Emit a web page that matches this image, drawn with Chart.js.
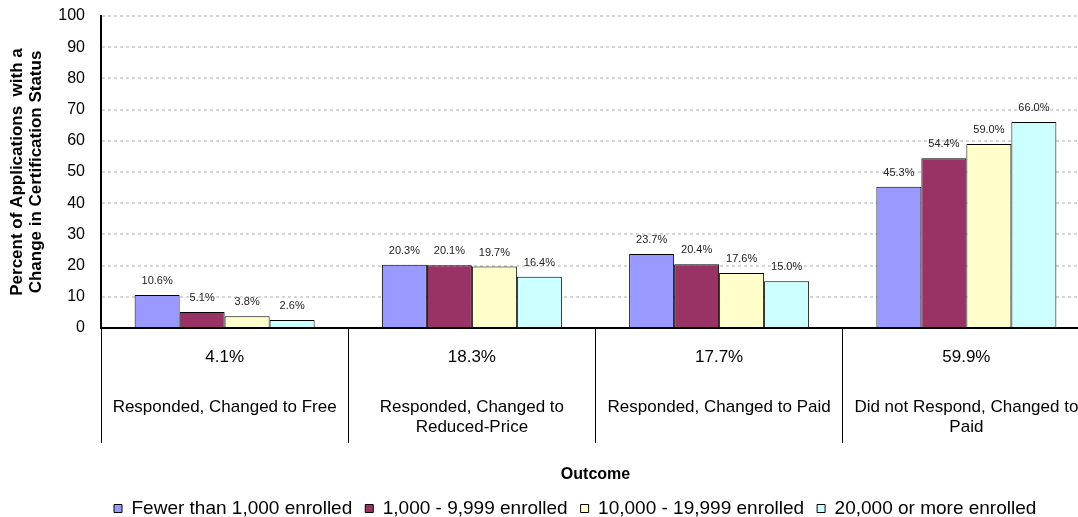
<!DOCTYPE html>
<html lang="en">
<head>
  <meta charset="UTF-8">
  <title>Change in Certification Status by Outcome</title>
  <style>
    html, body { margin: 0; padding: 0; background: #fff; overflow: hidden; }
    /* the original chart is wider than the window and gets cut on the right */
    .chart-box { position: relative; width: 1100px; height: 528px; }
  </style>
</head>
<body>
  <div class="chart-box">
    <canvas id="outcomeChart"></canvas>
  </div>

  <script src="https://cdn.jsdelivr.net/npm/chart.js"></script>
  <script>
    // Outcome categories and overall percent for each
    const outcomeNames = [
      ['Responded, Changed to Free'],
      ['Responded, Changed to', 'Reduced-Price'],
      ['Responded, Changed to Paid'],
      ['Did not Respond, Changed to', 'Paid']
    ];
    const overallPct = [4.1, 18.3, 17.7, 59.9];

    // District size groups
    const seriesNames = [
      'Fewer than 1,000 enrolled',
      '1,000 - 9,999 enrolled',
      '10,000 - 19,999 enrolled',
      '20,000 or more enrolled'
    ];
    const fewerThan1000 = [10.6, 20.3, 23.7, 45.3];
    const from1000To9999 = [5.1, 20.1, 20.4, 54.4];
    const from10000To19999 = [3.8, 19.7, 17.6, 59.0];
    const over20000 = [2.6, 16.4, 15.0, 66.0];

    const yTicks = [0, 10, 20, 30, 40, 50, 60, 70, 80, 90, 100];

    const barColors = ['#9999ff', '#993366', '#ffffcc', '#ccffff'];
    const fontFam = '"Liberation Sans", Arial, sans-serif';

    // tick label lines are 10px tall, blank lines give the gaps
    function buildLabel(pct, names) {
      const lines = [pct.toFixed(1) + '%', '', '', '', ''];
      names.forEach((n, i) => {
        if (i > 0) lines.push('');
        lines.push(n);
      });
      return lines;
    }
    const labels = overallPct.map((p, i) => buildLabel(p, outcomeNames[i]));

    // value labels above each bar
    const barValueLabels = {
      id: 'barValueLabels',
      afterDatasetsDraw(chart) {
        const ctx = chart.ctx;
        ctx.save();
        ctx.font = '11px ' + fontFam;
        ctx.fillStyle = '#222';
        ctx.textAlign = 'center';
        ctx.textBaseline = 'middle';
        chart.data.datasets.forEach((ds, di) => {
          chart.getDatasetMeta(di).data.forEach((bar, i) => {
            ctx.fillText(ds.data[i].toFixed(1) + '%', bar.x, bar.y - 14);
          });
        });
        ctx.restore();
      }
    };

    const allSeries = [fewerThan1000, from1000To9999, from10000To19999, over20000];

    new Chart(document.getElementById('outcomeChart'), {
      type: 'bar',
      data: {
        labels: labels,
        datasets: allSeries.map((vals, i) => ({
          label: seriesNames[i],
          data: vals,
          backgroundColor: barColors[i],
          borderColor: '#000',
          borderWidth: 1
        }))
      },
      options: {
        responsive: true,
        maintainAspectRatio: false,
        animation: false,
        layout: { padding: { top: 16, right: 10, left: 0, bottom: 0 } },
        datasets: {
          bar: { categoryPercentage: 0.728, barPercentage: 1 }
        },
        scales: {
          x: {
            grid: {
              offset: true,
              drawOnChartArea: false,
              drawTicks: true,
              tickLength: 115,
              tickColor: '#000',
              tickWidth: 1
            },
            border: { display: true, color: '#000', width: 2 },
            ticks: {
              autoSkip: false,
              maxRotation: 0,
              padding: -91,
              color: '#000',
              font: { family: fontFam, size: 17, lineHeight: '10px' }
            },
            title: {
              display: true,
              text: 'Outcome',
              color: '#000',
              font: { family: fontFam, size: 16, weight: 'bold' },
              padding: { top: 0, bottom: 2 }
            },
            afterFit(scale) { scale.height = 158; }
          },
          y: {
            min: 0,
            max: 100,
            afterBuildTicks(scale) { scale.ticks = yTicks.map(v => ({ value: v })); },
            grid: {
              color: '#d6d6d6',
              lineWidth: 2,
              drawTicks: false
            },
            border: { display: true, color: '#000', width: 2, dash: [3, 3] },
            ticks: {
              padding: 16,
              color: '#000',
              font: { family: fontFam, size: 16 }
            },
            title: {
              display: true,
              text: ['Percent of Applications  with a', 'Change in Certification Status'],
              color: '#000',
              font: { family: fontFam, size: 17, weight: 'bold', lineHeight: '19px' },
              padding: { top: 8, bottom: 0 }
            },
            afterFit(scale) {
              scale.width = 101;
              // tick padding would otherwise push the plot top down
              scale.paddingTop = 0;
            }
          }
        },
        plugins: {
          legend: {
            position: 'bottom',
            fullSize: false,
            align: 'start',
            labels: {
              boxWidth: 8,
              boxHeight: 8,
              padding: 13,
              color: '#000',
              font: { family: fontFam, size: 19 }
            }
          },
          tooltip: { enabled: false }
        }
      },
      plugins: [barValueLabels]
    });
  </script>
</body>
</html>
